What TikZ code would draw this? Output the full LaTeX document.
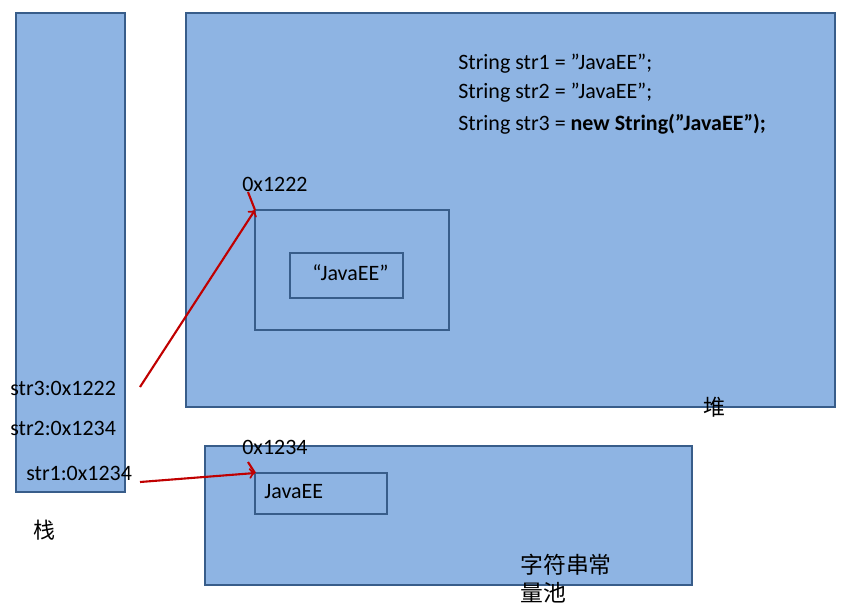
\documentclass[tikz,border=0pt]{standalone}
\usepackage{fontspec}
\setmainfont{Carlito}
\newfontfamily\cjk{Noto Sans CJK SC}
\usetikzlibrary{positioning}
\definecolor{memfill}{HTML}{8EB4E3}
\definecolor{memline}{HTML}{385D8A}
\definecolor{ptr}{HTML}{C00000}
\newcommand{\dq}{\char"22\relax}
\begin{document}
\begin{tikzpicture}[x=0.02cm,y=-0.02cm,
  area/.style={draw=memline,fill=memfill,line width=1.2pt},
  txt/.style={anchor=west,inner sep=0pt,font=\fontsize{12.5}{15}\selectfont},
  ref/.style={draw=ptr,line width=1.2pt}]
\useasboundingbox (0,0) rectangle (844,606);
\draw[area] (16,13) rectangle (125,492);
\draw[area] (186,13) rectangle (835,407);
\draw[area] (255,210) rectangle (449,330);
\draw[area] (290,253) rectangle (403,298);
\draw[area] (205,446) rectangle (692,585);
\draw[area] (255,473) rectangle (387,514);

\node[txt] (L1) at (458,64) {String str1 = \dq JavaEE\dq;};
\node[txt] (L2) at (458,93) {String str2 = \dq JavaEE\dq;};
\node[txt] (L3) at (458,124) {String str3 = \textbf{new String(\dq JavaEE\dq);}};
\node[txt] (S) at (312,273) {“JavaEE”};
\node[txt] (P) at (264,492) {JavaEE};
\node[txt] (A1) at (242,184) {0x1222};
\node[txt] (A2) at (242,447) {0x1234};
\node[txt] (V3) at (10,388) {str3:0x1222};
\node[txt] (V2) at (10,428) {str2:0x1234};
\node[txt] (V1) at (26,473) {str1:0x1234};
\node[txt] (K) at (33,530) {\cjk 栈};
\node[txt] (H) at (703,407) {\cjk 堆};
\node[txt,align=left,font=\fontsize{13}{16}\selectfont] (C) at (520,579) {\cjk 字符串常\\\cjk 量池};

\coordinate (T1) at (255,210);
\coordinate (T2) at (255,473);
\draw[ref,->] (140,387) -- (T1);
\draw[ref] (248,192) -- (T1);
\draw[ref,->] (140,482) -- (T2);
\draw[ref] (248,462) -- (T2);
\end{tikzpicture}
\end{document}
